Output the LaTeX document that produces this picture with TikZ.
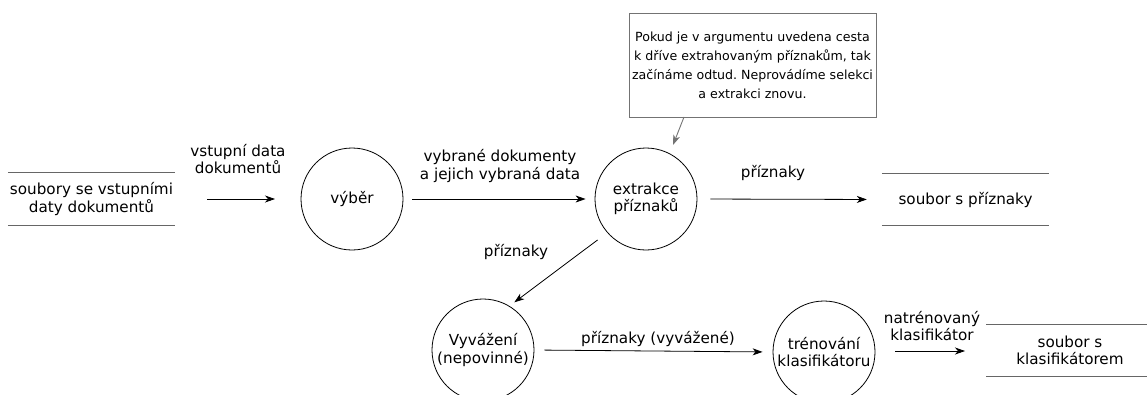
\documentclass[tikz,border=0pt]{standalone}
\usepackage{fontspec}
\setmainfont{DejaVu Sans}
\usetikzlibrary{arrows.meta}

\begin{document}
\frenchspacing
\begin{tikzpicture}[x=1pt,y=-1pt,
  txt/.style={align=center, inner sep=0pt, font=\fontsize{15.2}{17.5}\selectfont},
  proc/.style={draw, circle, minimum size=102pt, inner sep=0pt, line width=0.8pt, txt},
  store/.style={minimum width=167pt, minimum height=52pt, txt},
  storeline/.style={draw=black!60, line width=1.2pt},
  flow/.style={-{Stealth[length=10pt,width=7pt,inset=3pt]}, line width=0.8pt},
  note/.style={draw=black!55, line width=1pt, minimum width=247pt, minimum height=104pt,
    align=center, inner sep=0pt, font=\fontsize{12.6}{19}\selectfont},
  notearrow/.style={draw=black!55, -{Stealth[length=10pt,width=7pt,inset=3pt]}, line width=0.9pt}
]
\useasboundingbox (0,0) rectangle (1147,394);

% processes
\node[proc] (sel)   at (352,199) {výběr};
\node[proc] (ext)   at (646,199) {extrakce\\příznaků};
\node[proc] (bal)   at (483,350) {Vyvážení\\(nepovinné)};
\node[proc] (train) at (824,352) {trénování\\klasifikátoru};

% data stores
\node[store] (inp)  at (91.5,199) {soubory se vstupními\\daty dokumentů};
\node[store] (feat) at (965.5,199.5) {soubor s příznaky};
\node[store] (clf)  at (1070,350.5) {soubor s\\klasifikátorem};
\foreach \s in {inp,feat,clf}{
  \draw[storeline] (\s.north west) -- (\s.north east);
  \draw[storeline] (\s.south west) -- (\s.south east);
}

% note
\node[note] (nt) at (752.5,65) {Pokud je v argumentu uvedena cesta\\k dříve extrahovaným příznakům, tak\\začínáme odtud. Neprovádíme selekci\\a extrakci znovu.};
\coordinate (ntFoot) at (684,117);
\coordinate (ntTip) at (673,145);
\draw[notearrow] (ntFoot) -- (ntTip);

% flows
\coordinate (inA) at (207,199);
\coordinate (inB) at (275,199);
\draw[flow] (inA) -- (inB);
\node[txt] (l1) at (238,159) {vstupní data\\dokumentů};

\draw[flow, shorten <=9pt, shorten >=9pt] (sel) -- (ext);
\node[txt] (l2) at (500,166) {vybrané dokumenty\\a jejich vybraná data};

\draw[flow, shorten <=13pt, shorten >=15pt] (ext.east) -- (feat.west);
\node[txt] (l3) at (773,173) {příznaky};

\draw[flow, shorten <=12pt, shorten >=6pt] (ext.221) -- (bal.59);
\node[txt] (l4) at (516,252) {příznaky};

\draw[flow, shorten <=10pt, shorten >=10pt] (bal.east) -- (train.west);
\node[txt] (l5) at (658,339) {příznaky (vyvážené)};

\coordinate (clA) at (895,351);
\coordinate (clB) at (965,351);
\draw[flow] (clA) -- (clB);
\node[txt] (l6) at (932,326) {natrénovaný\\klasifikátor};
\end{tikzpicture}
\end{document}
